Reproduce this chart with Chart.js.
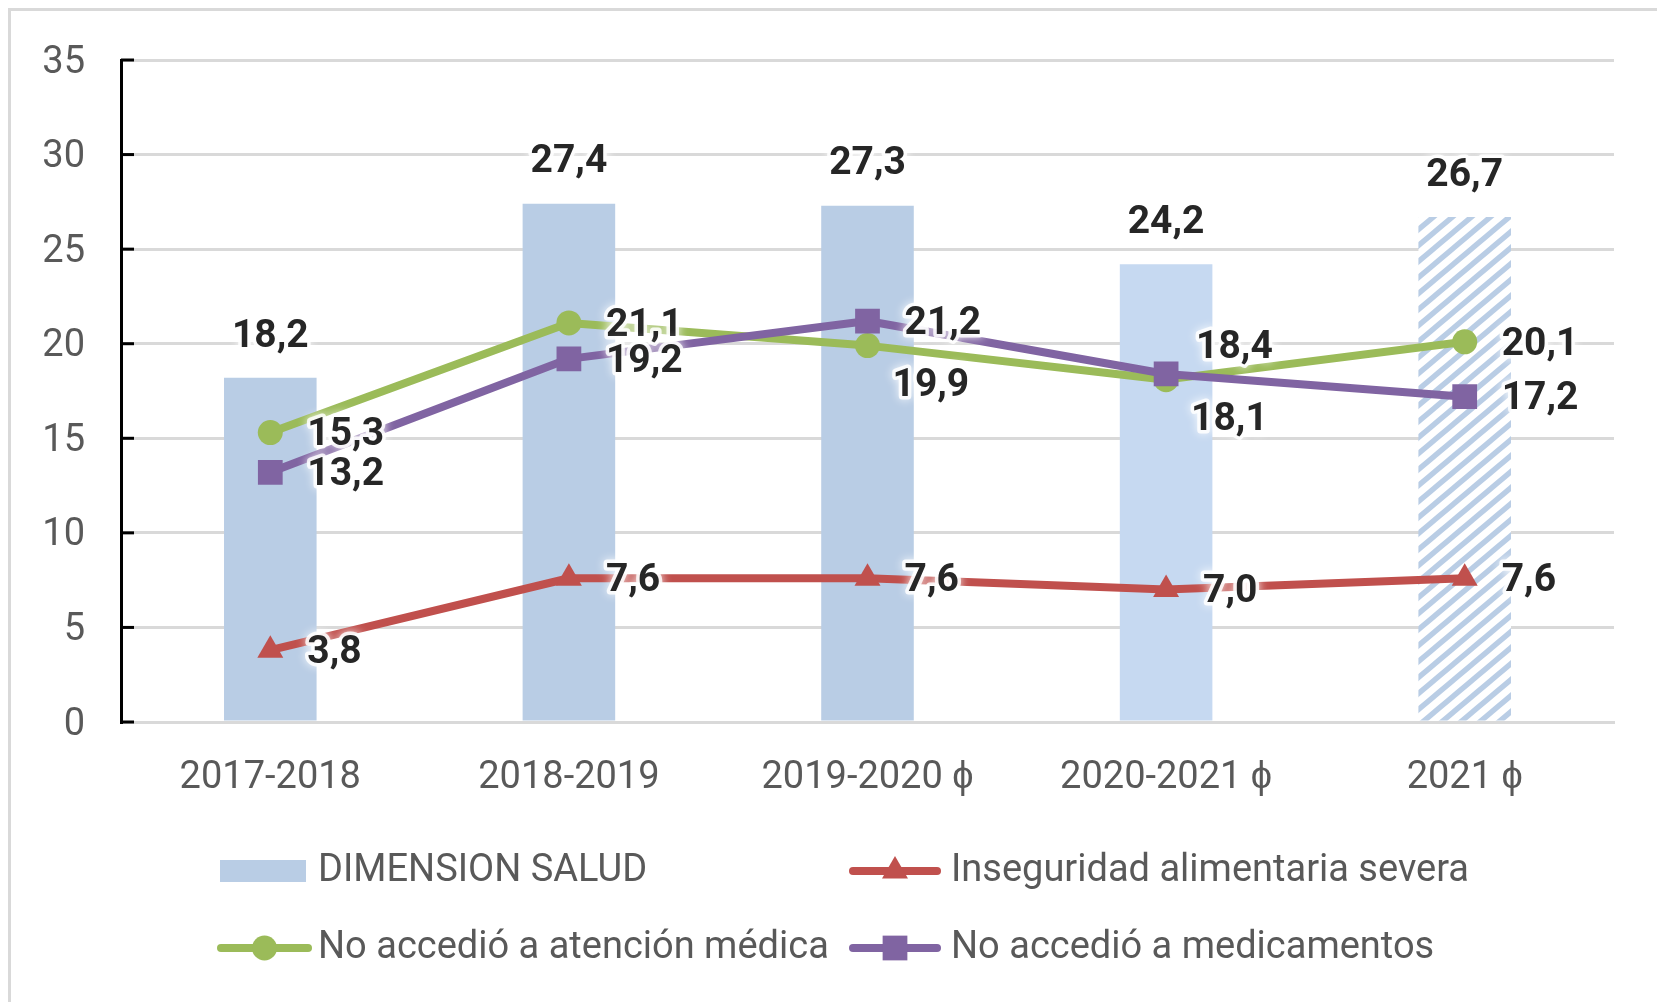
<!DOCTYPE html>
<html lang="es">
<head>
<meta charset="utf-8">
<title>Dimensión salud</title>
<script src="https://cdn.jsdelivr.net/npm/chart.js@4.4.1/dist/chart.umd.min.js"></script>
<style>
  html, body { margin: 0; padding: 0; background: #fff; }
  #wrap { position: relative; width: 1657px; height: 1002px; }
</style>
</head>
<body>
<div id="wrap"><canvas id="chart"></canvas></div>
<script>
// ── data ────────────────────────────────────────────
const periods = ['2017-2018', '2018-2019', '2019-2020 ϕ', '2020-2021 ϕ', '2021 ϕ'];
const dimensionSalud = [18.2, 27.4, 27.3, 24.2, 26.7];
const inseguridad    = [3.8, 7.6, 7.6, 7.0, 7.6];
const atencionMedica = [15.3, 21.1, 19.9, 18.1, 20.1];
const medicamentos   = [13.2, 19.2, 21.2, 18.4, 17.2];
const yMin = 0, yMax = 35, yStep = 5;

// ── style ───────────────────────────────────────────
const FONT = 'Roboto, "Liberation Sans", sans-serif';
const BLUE = '#B9CDE5', BLUE_LT = '#C6D9F1';
const RED = '#C0504D', GREEN = '#9BBB59', PURPLE = '#8064A2';
const GRID = '#D9D9D9', TXT = '#595959', LBL = '#262626';

// label placement relative to the point
const PLACE = {
  right: { dx: 37, dy: 3 },
  below: { dx: 25, dy: 41 },
  above: { dx: 30, dy: -26 },
};

const hatch = (color) => {
  const w = 19, h = 16;
  const cv = document.createElement('canvas');
  cv.width = w; cv.height = h;
  const g = cv.getContext('2d');
  g.fillStyle = '#fff';
  g.fillRect(0, 0, w, h);
  g.strokeStyle = color;
  g.lineWidth = 5.5;
  for (const off of [-h, 0, h]) {
    g.beginPath();
    g.moveTo(-w, 2 * h + off);
    g.lineTo(2 * w, -h + off);
    g.stroke();
  }
  return g.createPattern(cv, 'repeat');
};

const barColors = [BLUE, BLUE, BLUE, BLUE_LT, hatch(BLUE)];

// ── plugins ─────────────────────────────────────────
const frame = {
  id: 'frame',
  beforeDraw(chart) {
    const { ctx, width, height } = chart;
    ctx.save();
    ctx.fillStyle = '#fff';
    ctx.fillRect(0, 0, width, height);
    ctx.strokeStyle = GRID;
    ctx.lineWidth = 3;
    ctx.beginPath();
    ctx.moveTo(9.5, height); ctx.lineTo(9.5, 9.5); ctx.lineTo(width, 9.5);
    ctx.stroke();
    ctx.restore();
  },
  afterDraw(chart) {
    // inside tick marks on the y axis
    const { ctx, scales: { y }, chartArea } = chart;
    ctx.save();
    ctx.strokeStyle = '#000';
    ctx.lineWidth = 3;
    y.ticks.forEach((t) => {
      const py = y.getPixelForValue(t.value);
      ctx.beginPath();
      ctx.moveTo(chartArea.left, py);
      ctx.lineTo(chartArea.left + 13, py);
      ctx.stroke();
    });
    ctx.restore();
  },
};

const valueLabels = {
  id: 'valueLabels',
  afterDatasetsDraw(chart) {
    const { ctx } = chart;
    ctx.save();
    ctx.font = `bold 39px ${FONT}`;
    ctx.textBaseline = 'middle';
    chart.data.datasets.forEach((ds, i) => {
      chart.getDatasetMeta(i).data.forEach((el, j) => {
        const txt = ds.data[j].toFixed(1).replace('.', ',');
        let x, y;
        if (ds.type === 'bar') {
          x = el.x; y = el.y - 41; ctx.textAlign = 'center';
        } else {
          const o = PLACE[ds.labelPos[j]];
          x = el.x + o.dx; y = el.y + o.dy; ctx.textAlign = 'left';
        }
        ctx.shadowColor = 'rgba(255,255,255,1)';
        ctx.shadowBlur = 10;
        ctx.lineJoin = 'round';
        ctx.strokeStyle = 'rgba(255,255,255,0.85)';
        ctx.lineWidth = 7;
        ctx.strokeText(txt, x, y);
        ctx.shadowBlur = 0;
        ctx.fillStyle = LBL;
        ctx.fillText(txt, x, y);
      });
    });
    ctx.restore();
  },
};

// legend boxes: dataset index, swatch left, row centre, swatch width, text left
const LEGEND = [
  { ds: 0, x: 220, y: 871, w: 86, tx: 318 },
  { ds: 1, x: 849, y: 871, w: 92, tx: 951 },
  { ds: 2, x: 217, y: 948, w: 95, tx: 318 },
  { ds: 3, x: 849, y: 948, w: 92, tx: 951 },
];

const legend = {
  id: 'sheetLegend',
  afterDraw(chart) {
    const { ctx } = chart;
    ctx.save();
    LEGEND.forEach((it) => {
      const ds = chart.data.datasets[it.ds];
      if (ds.type === 'bar') {
        ctx.fillStyle = BLUE;
        ctx.fillRect(it.x, it.y - 11, it.w, 22);
      } else {
        ctx.strokeStyle = ds.borderColor;
        ctx.lineWidth = 8;
        ctx.lineCap = 'round';
        ctx.beginPath();
        ctx.moveTo(it.x + 4, it.y); ctx.lineTo(it.x + it.w - 4, it.y);
        ctx.stroke();
        ctx.fillStyle = ds.borderColor;
        Chart.helpers.drawPoint(ctx, { pointStyle: ds.pointStyle, radius: ds.pointRadius,
          borderWidth: 0, rotation: 0 }, it.x + it.w / 2, it.y);
      }
      ctx.fillStyle = TXT;
      ctx.font = `38px ${FONT}`;
      ctx.textAlign = 'left';
      ctx.textBaseline = 'middle';
      ctx.fillText(ds.label, it.tx, it.y);
    });
    ctx.restore();
  },
};

// ── chart ───────────────────────────────────────────
new Chart(document.getElementById('chart'), {
  type: 'bar',
  data: {
    labels: periods,
    datasets: [
      { type: 'bar', label: 'DIMENSION SALUD', data: dimensionSalud,
        backgroundColor: barColors, barPercentage: 0.31, categoryPercentage: 1, order: 3 },
      { type: 'line', label: 'Inseguridad alimentaria severa', data: inseguridad,
        borderColor: RED, backgroundColor: RED, borderWidth: 8, tension: 0,
        pointStyle: 'triangle', pointRadius: 15, pointBorderWidth: 0,
        borderCapStyle: 'round', borderJoinStyle: 'round', order: 2,
        labelPos: ['right', 'right', 'right', 'right', 'right'] },
      { type: 'line', label: 'No accedió a atención médica', data: atencionMedica,
        borderColor: GREEN, backgroundColor: GREEN, borderWidth: 8, tension: 0,
        pointStyle: 'circle', pointRadius: 12.5, pointBorderWidth: 0,
        borderCapStyle: 'round', borderJoinStyle: 'round', order: 1,
        labelPos: ['right', 'right', 'below', 'below', 'right'] },
      { type: 'line', label: 'No accedió a medicamentos', data: medicamentos,
        borderColor: PURPLE, backgroundColor: PURPLE, borderWidth: 8, tension: 0,
        pointStyle: 'rect', pointRadius: 17.5, pointBorderWidth: 0,
        borderCapStyle: 'round', borderJoinStyle: 'round', order: 0,
        labelPos: ['right', 'right', 'right', 'above', 'right'] },
    ],
  },
  options: {
    responsive: true, maintainAspectRatio: false, animation: false, events: [],
    layout: { padding: { left: 0, top: 60, right: 43, bottom: 200 } },
    plugins: { legend: { display: false }, tooltip: { enabled: false } },
    scales: {
      x: {
        grid: { display: false, drawTicks: false },
        border: { color: GRID, width: 3 },
        ticks: { color: TXT, font: { family: FONT, size: 38 }, padding: 34, maxRotation: 0 },
        afterFit: (s) => { s.height = 80; },
      },
      y: {
        min: yMin, max: yMax,
        grid: { color: GRID, lineWidth: 3, drawTicks: false },
        border: { color: '#000', width: 3 },
        // empty first line nudges the number down a few px onto the gridline
        ticks: { stepSize: yStep, color: TXT, font: { family: FONT, size: 38, lineHeight: 0.16 },
          padding: 36, callback: (v) => ['', String(v)] },
        afterFit: (s) => { s.width = 121; },
      },
    },
  },
  plugins: [frame, valueLabels, legend],
});
</script>
</body>
</html>
